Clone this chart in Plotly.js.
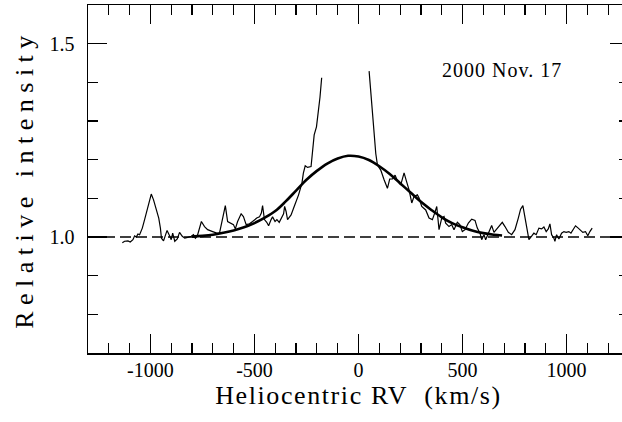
<!DOCTYPE html>
<html>
<head>
<meta charset="utf-8">
<script src="https://cdn.plot.ly/plotly-3.0.1.min.js"></script>
<style>
  html, body { margin: 0; padding: 0; overflow: hidden; background: #fff; }
  #chart { width: 630px; height: 422px; }
  .xtitle { letter-spacing: 1.6px; }
  .ytitle { letter-spacing: 6.5px; }
  .annotation-text { letter-spacing: 1px; }
</style>
</head>
<body>
<div id="chart"></div>
<script>
// Observed spectrum (heliocentric RV in km/s, relative intensity); null = truncated emission core
const specX = [-1135,-1124,-1108,-1097,-1084,-1076,-1068,-1060,-1052,-1039,-1028,-1017,-1008,-996,-985,-972,-960,-952,-947,-937,-928,-920,-908,-900,-893,-883,-871,-860,-847,-835,-821,-804,-793,-784,-775,-764,-755,-740,-725,-701,-681,-668,-653,-640,-629,-612,-601,-592,-581,-564,-553,-540,-524,-509,-489,-476,-467,-461,-452,-441,-432,-420,-413,-401,-392,-381,-371,-360,-355,-348,-341,-324,-309,-288,-272,-265,-256,-245,-228,-221,-213,-202,-192,-185,-177,
  null,
  51,59,67,75,83,91,107,123,139,150,163,176,187,203,219,230,243,256,267,283,291,304,323,339,355,367,376,387,400,411,419,435,448,459,475,487,499,512,528,544,560,571,584,592,603,611,622,640,651,667,679,691,704,720,736,752,768,779,790,800,811,819,832,843,854,867,880,891,902,912,920,928,939,944,952,963,976,987,998,1011,1021,1032,1043,1056,1067,1078,1091,1102,1112,1123];
const specY = [0.985,0.989,0.990,0.987,0.993,1.003,1.000,1.008,1.006,1.023,1.045,1.066,1.088,1.111,1.096,1.070,1.049,1.023,0.997,0.990,1.006,1.017,1.003,0.993,1.010,0.989,0.995,1.012,1.002,0.997,0.999,1.002,1.006,0.997,1.002,1.027,1.040,1.027,1.019,1.014,1.010,1.010,1.045,1.081,1.040,1.036,1.032,1.021,1.040,1.060,1.053,1.032,1.034,1.040,1.049,1.052,1.062,1.081,1.045,1.038,1.029,1.045,1.052,1.040,1.045,1.038,1.049,1.060,1.079,1.066,1.045,1.057,1.079,1.109,1.139,1.165,1.184,1.180,1.182,1.216,1.264,1.285,1.328,1.362,1.412,
  null,
  1.429,1.371,1.311,1.268,1.216,1.186,1.173,1.148,1.126,1.150,1.150,1.160,1.145,1.135,1.166,1.145,1.122,1.088,1.105,1.109,1.101,1.079,1.070,1.049,1.045,1.063,1.079,1.019,1.049,1.053,1.036,1.027,1.032,1.019,1.038,1.032,1.014,1.019,1.036,1.046,1.043,1.023,1.010,0.993,1.006,0.993,1.008,1.030,1.012,1.022,1.029,1.038,1.027,1.012,1.006,1.019,1.049,1.072,1.081,1.053,1.019,0.993,1.002,1.010,1.006,1.023,1.021,1.026,1.014,1.021,1.034,1.006,0.997,0.989,1.006,0.995,1.010,1.014,1.012,1.014,1.010,1.019,1.029,1.023,1.017,1.012,1.014,1.003,1.014,1.023];

// Fitted profile
const fitX = [-800,-750,-700,-650,-600,-550,-500,-450,-400,-350,-300,-250,-200,-150,-100,-50,0,50,100,150,200,250,300,350,400,450,500,550,600,650,690];
const fitY = [1.001,1.003,1.006,1.011,1.017,1.025,1.036,1.050,1.067,1.092,1.120,1.148,1.171,1.190,1.203,1.210,1.208,1.199,1.183,1.163,1.139,1.115,1.091,1.070,1.051,1.036,1.025,1.016,1.010,1.006,1.004];

// Continuum level and axis tick labels
const continuumX = [-1300, 1300];
const continuumY = [1.0, 1.0];
const xTickVals = [-1000, -500, 0, 500, 1000];
const xTickText = ["-1000", "-500", "0", "500", "1000"];
const yTickVals = [1.0, 1.5];
const yTickText = ["1.0", "1.5"];
const dateLabel = "2000 Nov. 17";

const serif = "Liberation Serif";

const traces = [
  { x: continuumX, y: continuumY, mode: "lines", line: { color: "#000", width: 1.4, dash: "11px,5px" }, hoverinfo: "skip" },
  { x: specX, y: specY, mode: "lines", line: { color: "#000", width: 1.2 }, connectgaps: false },
  { x: fitX, y: fitY, mode: "lines", line: { color: "#000", width: 2.6, shape: "spline" } }
];

const axisCommon = {
  showline: true, linecolor: "#000", linewidth: 1.5, mirror: "ticks",
  ticks: "inside", ticklen: 19, tickwidth: 1.2, tickcolor: "#000",
  showgrid: false, zeroline: false,
  tickfont: { family: serif, size: 20, color: "#000" }
};

const layout = {
  width: 630, height: 422,
  margin: { l: 88, r: 1, t: 5, b: 69, pad: 0 },
  paper_bgcolor: "#fff", plot_bgcolor: "#fff",
  font: { family: serif, color: "#000" },
  showlegend: false,
  xaxis: Object.assign({}, axisCommon, {
    range: [-1300, 1300],
    tickmode: "array", tickvals: xTickVals, ticktext: xTickText,
    ticklabelstandoff: -2,
    minor: { tickmode: "linear", tick0: 0, dtick: 100, ticks: "inside", ticklen: 10, tickwidth: 1.2, tickcolor: "#000" },
    title: { text: "Heliocentric RV\u00a0\u00a0(km/s)", font: { family: serif, size: 26, color: "#000" }, standoff: 6 }
  }),
  yaxis: Object.assign({}, axisCommon, {
    range: [0.7, 1.6],
    tickmode: "array", tickvals: yTickVals, ticktext: yTickText,
    ticklabelstandoff: 8,
    minor: { tickmode: "linear", tick0: 0, dtick: 0.1, ticks: "inside", ticklen: 10, tickwidth: 1.2, tickcolor: "#000" },
    title: { text: "Relative intensity", font: { family: serif, size: 26, color: "#000" }, standoff: 8 }
  }),
  annotations: [
    { text: dateLabel, xref: "x", yref: "y", x: 692, y: 1.432, showarrow: false,
      font: { family: serif, size: 20, color: "#000" } }
  ]
};

Plotly.newPlot("chart", traces, layout, { staticPlot: true, displayModeBar: false });
</script>
</body>
</html>
